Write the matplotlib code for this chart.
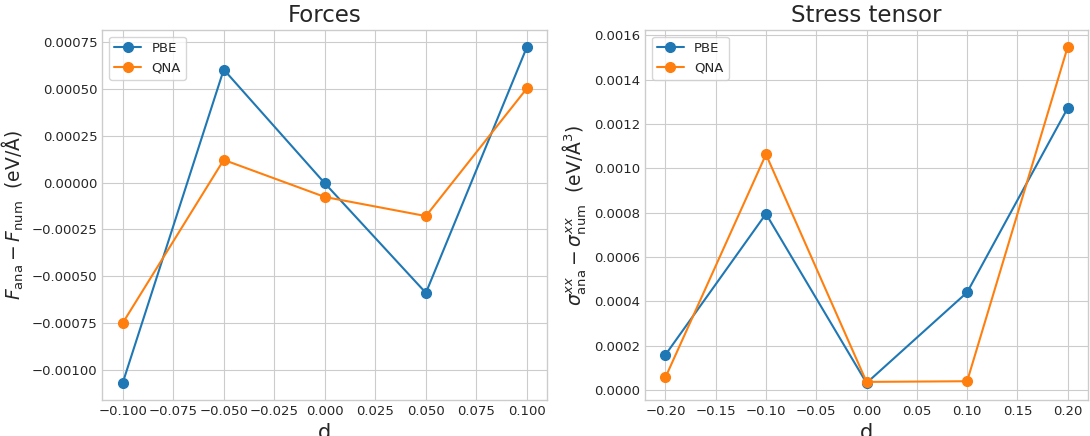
import numpy as np
import matplotlib
matplotlib.use('Agg')
import matplotlib.pyplot as plt

# data
d_force = [-0.1, -0.05, 0.0, 0.05, 0.1]
force_pbe = [-0.00107, 0.000603, -0.000004, -0.000589, 0.000724]
force_qna = [-0.00075, 0.000121, -0.000077, -0.000179, 0.000503]

d_stress = [-0.2, -0.1, 0.0, 0.1, 0.2]
stress_pbe = [0.000159, 0.000795, 0.000032, 0.000441, 0.001272]
stress_qna = [0.000057, 0.001063, 0.000037, 0.000040, 0.001548]

plt.style.use('seaborn-v0_8-whitegrid')
plt.rcParams['font.family'] = ['DejaVu Sans']
plt.rcParams['mathtext.fontset'] = 'dejavusans'

fig = plt.figure(figsize=(10.9, 4.36), dpi=100)
ax1 = fig.add_axes([0.094, 0.083, 0.408, 0.848])
ax2 = fig.add_axes([0.592, 0.083, 0.406, 0.848])

for ax, x, pbe, qna in [(ax1, d_force, force_pbe, force_qna),
                        (ax2, d_stress, stress_pbe, stress_qna)]:
    ax.plot(x, pbe, 'o-', color='#1f77b4', label='PBE', markersize=7, linewidth=1.5)
    ax.plot(x, qna, 'o-', color='#ff7f0e', label='QNA', markersize=7, linewidth=1.5)
    ax.set_xlabel('d', fontsize=15, color='.15')
    ax.tick_params(labelsize=9.5, labelcolor='.15')
    ax.legend(loc='upper left', frameon=True, fontsize=9.5)
    for s in ax.spines.values():
        s.set_color('#cccccc')

ax1.set_title('Forces', fontsize=16.5, color='.15')
ax2.set_title('Stress tensor', fontsize=16.5, color='.15')
ax1.set_ylabel(r'$F_{\rm ana} - F_{\rm num}$  (eV/Å)', fontsize=13.5, color='.15')
ax2.set_ylabel(r'$\sigma^{xx}_{\rm ana} - \sigma^{xx}_{\rm num}$  (eV/Å$^3$)', fontsize=13.5, color='.15')
ax1.set_xticks(np.arange(-0.1, 0.1001, 0.025))
ax2.set_xticks(np.arange(-0.2, 0.2001, 0.05))

fig.savefig('out.png', dpi=100)
